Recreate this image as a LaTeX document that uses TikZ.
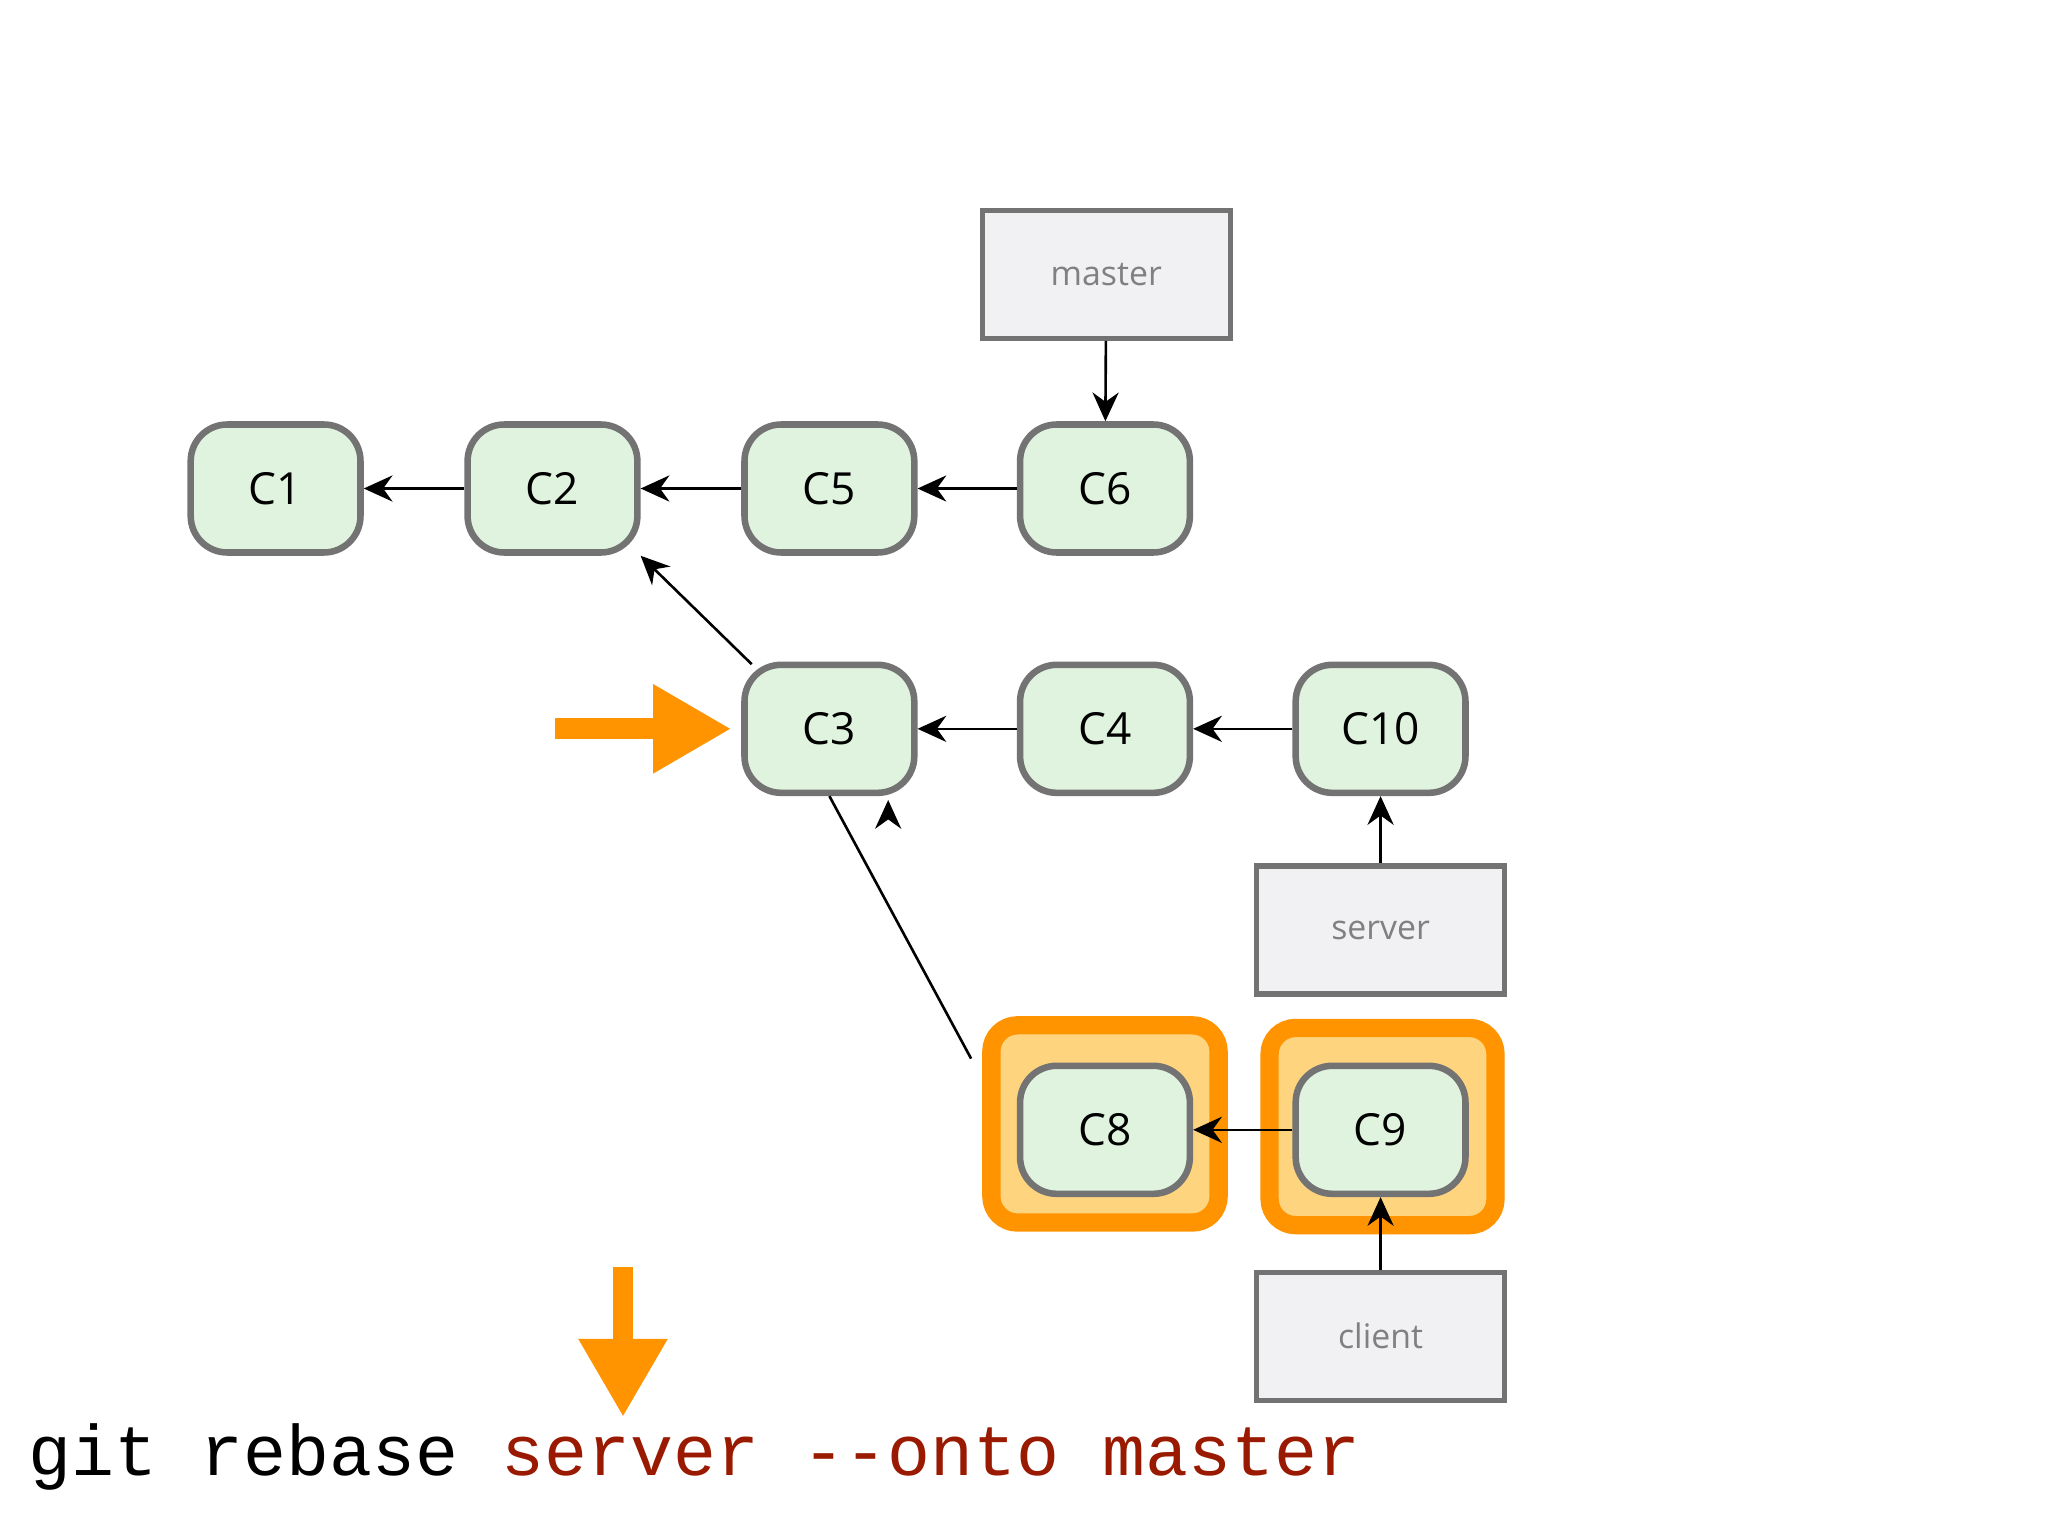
\documentclass[tikz,border=0pt]{standalone}
\usepackage{fontspec}
\setmainfont{Open Sans}
\newfontfamily\monof{Liberation Mono}
\usetikzlibrary{arrows.meta}
\definecolor{cfill}{HTML}{DFF3DF}
\definecolor{cdraw}{HTML}{737373}
\definecolor{bfill}{HTML}{F1F0F2}
\definecolor{org}{HTML}{FF9400}
\definecolor{orgl}{HTML}{FFD47F}
\definecolor{dred}{HTML}{991A00}
\tikzset{
 commit/.style={draw=cdraw,fill=cfill,line width=5bp,rounded corners=28bp,minimum width=130bp,minimum height=98bp,font=\fontsize{34}{34}\selectfont},
 ref/.style={draw=cdraw,fill=bfill,line width=4bp,minimum width=190bp,minimum height=98bp,text=gray,font=\fontsize{26}{26}\selectfont},
 arr/.style={-{Stealth[length=22bp,width=20bp]},line width=2bp},
 hl/.style={draw=org,fill=orgl,line width=14bp,rounded corners=20bp},
 big/.style={-{Triangle[length=60bp,width=64bp]},org,line width=16bp}
}
\begin{document}
\begin{tikzpicture}[x=1bp,y=-1bp]
\useasboundingbox (0,0) rectangle (1568,1176);
\fill[white] (0,0) rectangle (1568,1176);
\draw[hl] (759,785) rectangle (933,936);
\draw[hl] (972,787) rectangle (1145,938);
\node[commit] (c1) at (211,374) {C1};
\node[commit] (c2) at (423,374) {C2};
\node[commit] (c5) at (635,374) {C5};
\node[commit] (c6) at (846,374) {C6};
\node[commit] (c3) at (635,558) {C3};
\node[commit] (c4) at (846,558) {C4};
\node[commit] (c10) at (1057,558) {C10};
\node[commit] (c8) at (846,865) {C8};
\node[commit] (c9) at (1057,865) {C9};
\node[ref] (master) at (847,210) {master};
\node[ref] (server) at (1057,712) {server};
\node[ref] (client) at (1057,1023) {client};
\draw[arr] (c2) -- (c1);
\draw[arr] (c5) -- (c2);
\draw[arr] (c6) -- (c5);
\draw[arr] (c4) -- (c3);
\draw[arr] (c10) -- (c4);
\draw[arr] (c9) -- (c8);
\draw[arr] (c3.north west) ++(8,2) -- (c2.south east);
\draw[arr] (c8.north west) ++(-35,-3) coordinate (a) -- (c3.south) ++(45,3);
\draw[arr] (master) -- (c6);
\draw[arr] (server) -- (c10);
\draw[arr] (client) -- (c9);
\coordinate (r0) at (425,558); \coordinate (r1) at (560,558);
\draw[big] (r0) -- (r1);
\coordinate (d0) at (477,970); \coordinate (d1) at (477,1085);
\draw[big] (d0) -- (d1);
\node[anchor=base west,inner sep=0,font=\monof\fontsize{55}{55}\selectfont] (cmd) at (22,1130) {git rebase \textcolor{dred}{server --onto master}};
\end{tikzpicture}
\end{document}
